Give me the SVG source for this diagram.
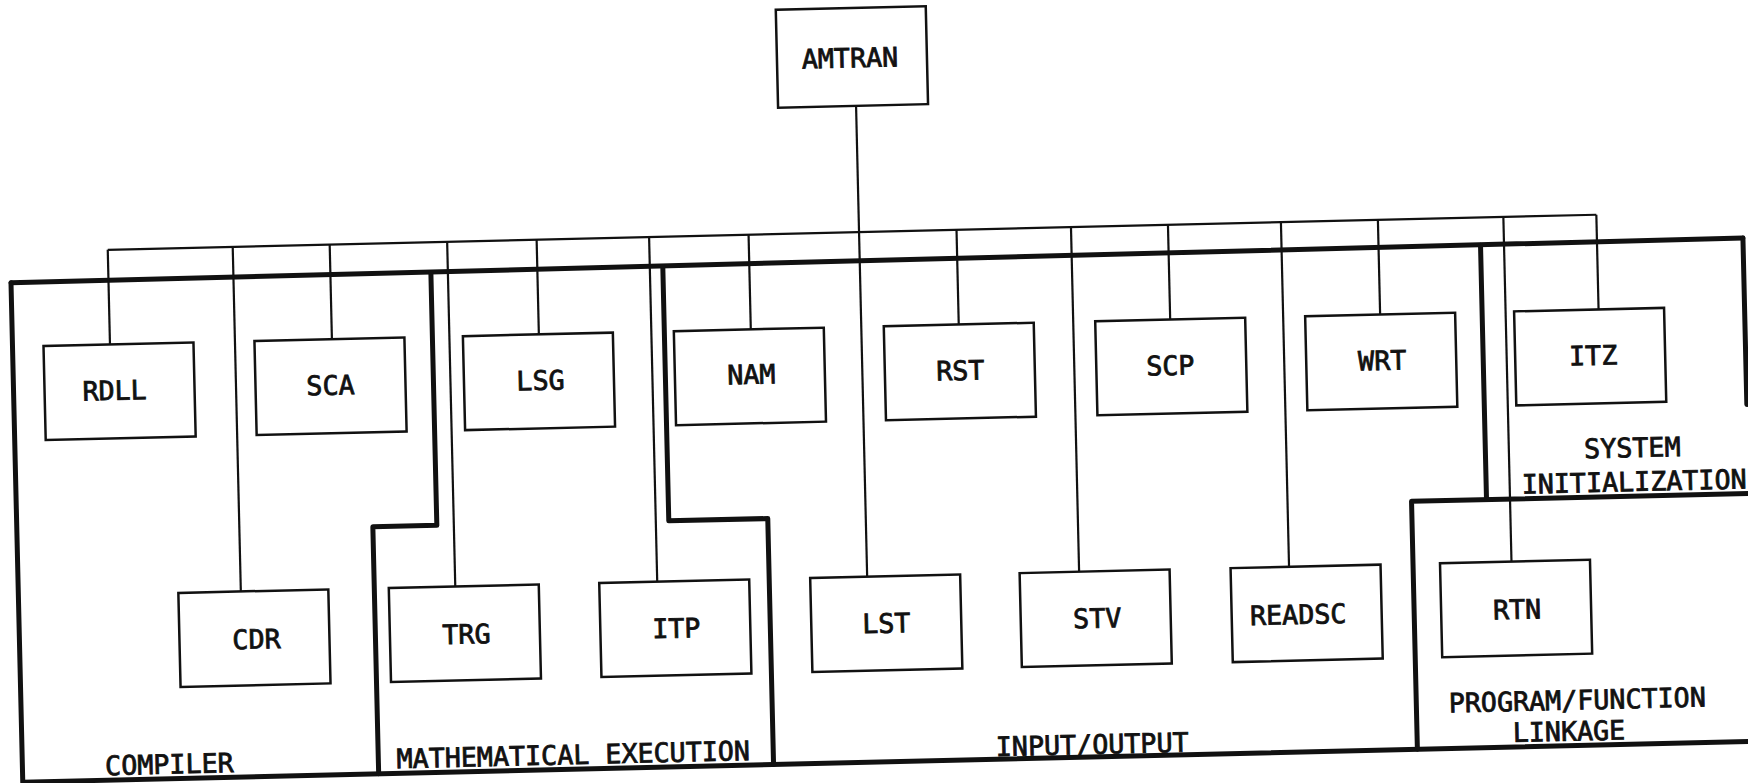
<svg xmlns="http://www.w3.org/2000/svg" width="1748" height="783" viewBox="0 0 1748 783">
<style>
.bg{fill:#ffffff}
.box{fill:#ffffff;stroke:#111;stroke-width:2.5}
.conn{fill:none;stroke:#111;stroke-width:2.2}
.region{fill:none;stroke:#111;stroke-width:5;stroke-linejoin:round;stroke-linecap:round}
.lbl{font-family:"DejaVu Sans Mono","Liberation Mono",monospace;font-size:26.7px;fill:#111;stroke:#111;stroke-width:0.8;text-anchor:middle}
</style>
<rect class="bg" x="0" y="0" width="1748" height="783"/>
<g transform="rotate(-1.35 874 400)">
  <g id="regions">
    <polyline class="region" points="14,262.5 1746.5,258.5"/>
    <polyline class="region" points="14,262.5 14,762 1748,762"/>
    <polyline class="region" points="434,262 434,515 370,515 370,762"/>
    <polyline class="region" points="666,261.5 666,516 765,516 765,762"/>
    <polyline class="region" points="1484,259.5 1484,514"/>
    <polyline class="region" points="1409,762 1409,514 1748,514"/>
    <polyline class="region" points="1746.5,258.5 1746.5,425"/>
  </g>
  <g id="region-labels">
    <text class="lbl" x="161" y="757">COMPILER</text>
    <text class="lbl" x="565" y="757">MATHEMATICAL EXECUTION</text>
    <text class="lbl" x="1084" y="759">INPUT/OUTPUT</text>
    <text class="lbl" x="1631" y="475">SYSTEM</text>
    <text class="lbl" x="1632" y="509">INITIALIZATION</text>
    <text class="lbl" x="1570" y="726">PROGRAM/FUNCTION</text>
    <text class="lbl" x="1561" y="757">LINKAGE</text>
  </g>
  <g id="connectors">
    <line class="conn" x1="863" y1="105.5" x2="863" y2="576.5"/>
    <line class="conn" x1="111.5" y1="231.8" x2="1600.5" y2="231.8"/>
    <line class="conn" x1="111.5" y1="231.8" x2="111.5" y2="326.5"/>
    <line class="conn" x1="333.5" y1="231.8" x2="333.5" y2="326.5"/>
    <line class="conn" x1="540.5" y1="231.8" x2="540.5" y2="326.5"/>
    <line class="conn" x1="752.5" y1="231.8" x2="752.5" y2="326.5"/>
    <line class="conn" x1="960.5" y1="231.8" x2="960.5" y2="326.5"/>
    <line class="conn" x1="1172" y1="231.8" x2="1172" y2="326.5"/>
    <line class="conn" x1="1382" y1="231.8" x2="1382" y2="326.5"/>
    <line class="conn" x1="1600.5" y1="231.8" x2="1600.5" y2="326.5"/>
    <line class="conn" x1="236.5" y1="231.8" x2="236.5" y2="576.5"/>
    <line class="conn" x1="451" y1="231.8" x2="451" y2="576.5"/>
    <line class="conn" x1="653" y1="231.8" x2="653" y2="576.5"/>
    <line class="conn" x1="1075" y1="231.8" x2="1075" y2="576.5"/>
    <line class="conn" x1="1285" y1="231.8" x2="1285" y2="576.5"/>
    <line class="conn" x1="1507.5" y1="231.8" x2="1507.5" y2="576.5"/>
  </g>
  <g id="node-amtran"><rect class="box" x="785" y="7.5" width="150" height="98"/><text class="lbl" x="858" y="67">AMTRAN</text></g>
  <g id="node-rdll"><rect class="box" x="45" y="326.5" width="150" height="94"/><text class="lbl" x="115" y="382">RDLL</text></g>
  <g id="node-sca"><rect class="box" x="256" y="326.5" width="150" height="94"/><text class="lbl" x="331" y="382">SCA</text></g>
  <g id="node-lsg"><rect class="box" x="464.5" y="326.5" width="150" height="94"/><text class="lbl" x="541" y="382">LSG</text></g>
  <g id="node-nam"><rect class="box" x="675.5" y="326.5" width="150" height="94"/><text class="lbl" x="752" y="381">NAM</text></g>
  <g id="node-rst"><rect class="box" x="885.5" y="326.5" width="150" height="94"/><text class="lbl" x="961" y="382">RST</text></g>
  <g id="node-scp"><rect class="box" x="1097" y="326.5" width="150" height="94"/><text class="lbl" x="1171" y="382">SCP</text></g>
  <g id="node-wrt"><rect class="box" x="1307" y="326.5" width="150" height="94"/><text class="lbl" x="1383" y="382">WRT</text></g>
  <g id="node-itz"><rect class="box" x="1516" y="326.5" width="150" height="94"/><text class="lbl" x="1594" y="382">ITZ</text></g>
  <g id="node-cdr"><rect class="box" x="174" y="576.5" width="150" height="94"/><text class="lbl" x="251" y="634">CDR</text></g>
  <g id="node-trg"><rect class="box" x="384.5" y="576.5" width="150" height="94"/><text class="lbl" x="461" y="634">TRG</text></g>
  <g id="node-itp"><rect class="box" x="595" y="576.5" width="150" height="94"/><text class="lbl" x="671" y="633">ITP</text></g>
  <g id="node-lst"><rect class="box" x="806" y="576.5" width="150" height="94"/><text class="lbl" x="881" y="633">LST</text></g>
  <g id="node-stv"><rect class="box" x="1015.5" y="576.5" width="150" height="94"/><text class="lbl" x="1092" y="633">STV</text></g>
  <g id="node-readsc"><rect class="box" x="1226.5" y="576.5" width="150" height="94"/><text class="lbl" x="1293" y="634">READSC</text></g>
  <g id="node-rtn"><rect class="box" x="1436" y="576.5" width="150" height="94"/><text class="lbl" x="1512" y="634">RTN</text></g>
</g>
</svg>
